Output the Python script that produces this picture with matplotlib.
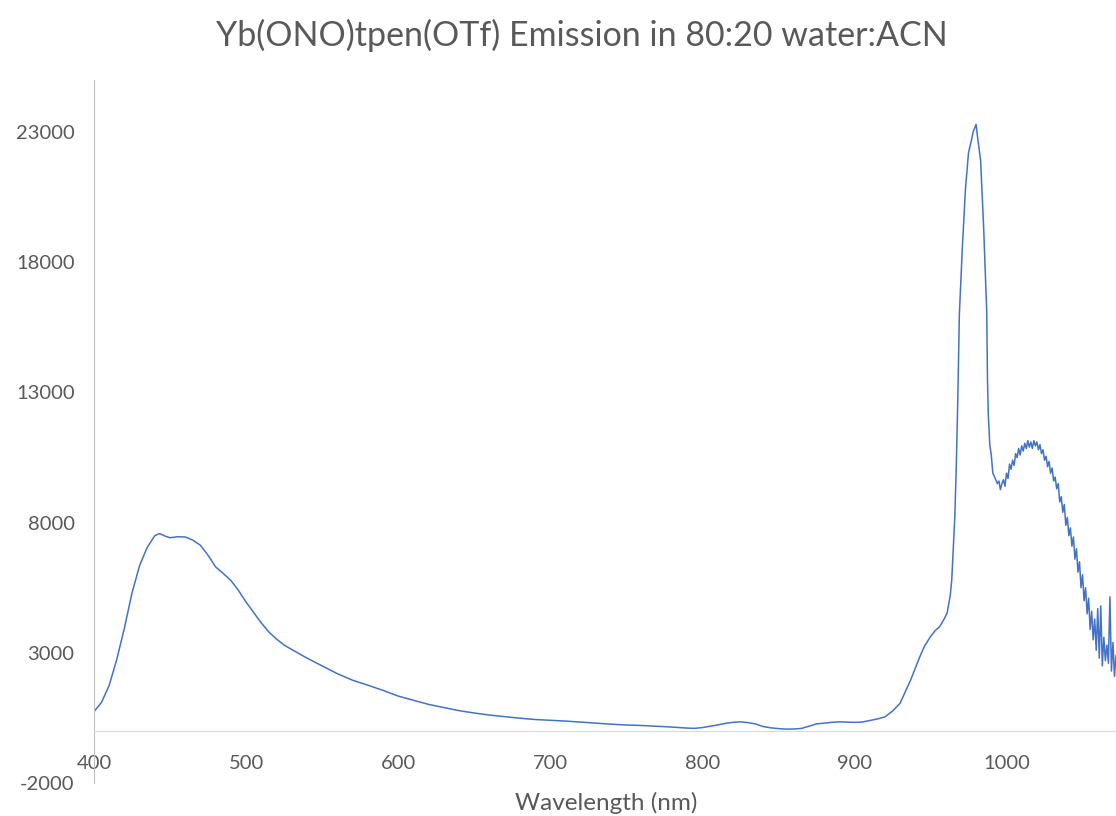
import matplotlib.pyplot as plt

plt.rcParams['font.family'] = ['Lato', 'DejaVu Sans']
plt.rcParams['axes.unicode_minus'] = False

# emission spectrum, wavelength (nm) vs intensity (counts)
wavelength = [400, 405, 410, 415, 420, 425, 430, 435, 440, 443, 447, 450, 455, 460, 465, 470,
              475, 480, 485, 490, 495, 500, 505, 510, 515, 520, 525, 530, 540, 550, 560, 570,
              580, 590, 600, 610, 620, 630, 640, 650, 660, 670, 680, 690, 700, 710, 720, 730,
              740, 750, 760, 770, 780, 790, 795, 800, 805, 810, 815, 820, 825, 830, 835, 840,
              845, 850, 855, 860, 865, 870, 875, 880, 885, 890, 895, 900, 905, 910, 915, 920,
              925, 930, 933, 937, 940, 943, 946, 950, 953, 956, 959, 961, 963, 964, 965, 966,
              967, 968, 969, 971, 973, 975, 977, 978, 980, 981, 983, 985, 987, 987.5, 988, 989,
              990, 991, 992, 994, 995, 996, 997,
              998, 999, 1000, 1001, 1002, 1003, 1004, 1005, 1006, 1007, 1008, 1009, 1010, 1011,
              1012, 1013, 1014, 1015, 1016, 1017, 1018, 1019, 1020, 1021, 1022, 1023, 1024, 1025,
              1026, 1027, 1028, 1029, 1030, 1031, 1032, 1033, 1034, 1035, 1036, 1037, 1038, 1039,
              1040, 1041, 1042, 1043, 1044, 1045, 1046, 1047, 1048, 1049, 1050, 1051, 1052, 1053,
              1054, 1055, 1056, 1057, 1058, 1059, 1060, 1061, 1062, 1063, 1064, 1065, 1066, 1067,
              1068, 1069, 1070, 1071, 1072]
intensity = [740, 1100, 1750, 2750, 3950, 5300, 6350, 7050, 7500, 7580, 7480, 7420, 7460, 7450, 7330, 7130,
             6750, 6300, 6050, 5780, 5400, 4950, 4550, 4150, 3800, 3530, 3300, 3130, 2800, 2500, 2200, 1950,
             1760, 1560, 1340, 1180, 1020, 900, 780, 690, 610, 550, 490, 440, 410, 380, 340, 300,
             260, 230, 210, 180, 150, 110, 100, 130, 180, 230, 290, 330, 350, 320, 270, 170,
             120, 90, 70, 75, 95, 180, 270, 300, 330, 350, 340, 330, 340, 400, 460, 540,
             760, 1060, 1450, 1960, 2400, 2850, 3250, 3620, 3850, 4000, 4300, 4540, 5200, 5800, 7000, 8200,
             10200, 12800, 16000, 18600, 20800, 22200, 22700, 23000, 23300, 22800, 21900, 19300, 16100, 13500, 12200, 11000,
             10600, 9900, 9780, 9500, 9600, 9270, 9500,
             9650, 9400, 9900, 9700, 10250, 10050, 10400, 10200, 10650, 10500, 10850, 10600, 10950, 10750,
             11050, 10850, 11150, 10900, 11100, 10850, 11150, 10950, 11100, 10800, 11000, 10650, 10800, 10400,
             10550, 10150, 10350, 9900, 10100, 9600, 9750, 9300, 9500, 8800, 9000, 8400, 8700, 7900,
             8200, 7500, 7800, 7100, 7450, 6600, 7000, 6100, 6500, 5500, 6000, 5000, 5500, 4500,
             5100, 3900, 4600, 3500, 4300, 3100, 4700, 2800, 4800, 2500, 3600, 2700, 3300, 2600,
             5150, 2300, 3400, 2100, 2900]

x_ticks = [400, 500, 600, 700, 800, 900, 1000]
y_ticks = [-2000, 3000, 8000, 13000, 18000, 23000]

text_grey = '#595959'

fig = plt.figure(figsize=(11.16, 8.16), dpi=100)
ax = fig.add_axes([0.0842, 0.0404, 0.9158, 0.8615])

ax.plot(wavelength, intensity, color='#4472C4', linewidth=1.1)

ax.set_xlim(400, 1072)
ax.set_ylim(-2000, 25000)
ax.set_xticks(x_ticks)
ax.set_yticks(y_ticks)

# x axis crosses at zero, Excel style
ax.spines['bottom'].set_position(('data', 0))
ax.spines['bottom'].set_color('#d9d9d9')
ax.spines['left'].set_color('#bfbfbf')
ax.spines['top'].set_visible(False)
ax.spines['right'].set_visible(False)

ax.tick_params(axis='x', length=0, pad=17, labelsize=14.5, labelcolor=text_grey)
ax.tick_params(axis='y', length=0, pad=14, labelsize=14.5, labelcolor=text_grey)

fig.text(0.521, 0.957, 'Yb(ONO)tpen(OTf) Emission in 80:20 water:ACN',
         ha='center', va='center', fontsize=24.5, color=text_grey)
fig.text(0.543, 0.016, 'Wavelength (nm)', ha='center', va='center',
         fontsize=17.5, color=text_grey)

fig.savefig('out.png', dpi=100)
